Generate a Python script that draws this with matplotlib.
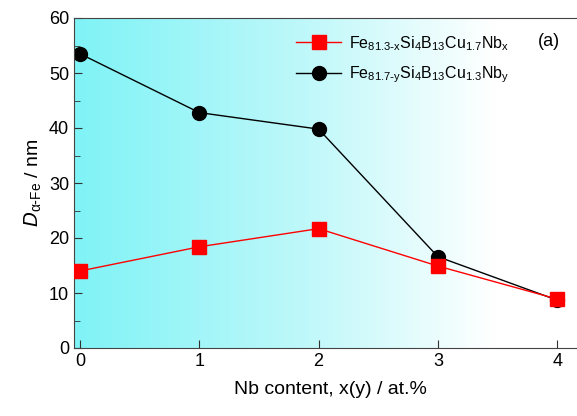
import numpy as np
import matplotlib
matplotlib.use("Agg")
import matplotlib.pyplot as plt
from matplotlib.colors import LinearSegmentedColormap
from matplotlib.ticker import MultipleLocator

plt.rcParams['font.family'] = ['Liberation Sans', 'DejaVu Sans']
plt.rcParams['mathtext.default'] = 'regular'

nb = [0, 1, 2, 3, 4]
d_x = [14.0, 18.4, 21.7, 14.9, 8.9]   # Fe81.3-x Si4 B13 Cu1.7 Nbx
d_y = [53.5, 42.8, 39.8, 16.6, 8.7]   # Fe81.7-y Si4 B13 Cu1.3 Nby

lab_x = r'Fe$_{81.3\text{-}x}$Si$_4$B$_{13}$Cu$_{1.7}$Nb$_x$'
lab_y = r'Fe$_{81.7\text{-}y}$Si$_4$B$_{13}$Cu$_{1.3}$Nb$_y$'

fig = plt.figure(figsize=(5.77, 4.16), dpi=100)
ax = fig.add_axes([74 / 577, 68 / 416, 513 / 577, 330 / 416])

# cyan -> white background gradient
cmap = LinearSegmentedColormap.from_list(
    "bg", [(0.0, "#7ff3f6"), (0.45, "#bff8fa"), (0.82, "#ffffff"), (1.0, "#ffffff")])
grad = np.linspace(0, 1, 256).reshape(1, -1)
ax.imshow(grad, cmap=cmap, aspect='auto', extent=[0, 1, 0, 1],
          transform=ax.transAxes, zorder=0)

ax.plot(nb, d_x, color='red', lw=1.0, marker='s', ms=10, mec='red', mfc='red',
        label=lab_x, zorder=3)
ax.plot(nb, d_y, color='black', lw=1.0, marker='o', ms=10, mec='black', mfc='black',
        label=lab_y, zorder=2)

ax.set_xlim(-0.05, 4.25)
ax.set_ylim(0, 60)
ax.xaxis.set_major_locator(MultipleLocator(1))
ax.yaxis.set_major_locator(MultipleLocator(10))
ax.yaxis.set_minor_locator(MultipleLocator(5))
ax.tick_params(which='both', direction='in', labelsize=13, color='#333333')
ax.tick_params(which='major', length=6)
ax.tick_params(which='minor', length=4)
for s in ax.spines.values():
    s.set_color('#444444')
ax.spines['right'].set_visible(False)

ax.set_xlabel('Nb content, x(y) / at.%', fontsize=14, labelpad=8)
ax.set_ylabel(r'$\mathit{D}_{\alpha\text{-}Fe}$ / nm', fontsize=14, labelpad=4)

ax.legend(loc='upper left', bbox_to_anchor=(0.405, 0.995), frameon=False,
          fontsize=11.5, handlelength=2.8, handletextpad=0.5, labelspacing=0.75)
ax.text(0.905, 0.915, '(a)', transform=ax.transAxes, fontsize=13)

fig.savefig('out.png', dpi=100)
